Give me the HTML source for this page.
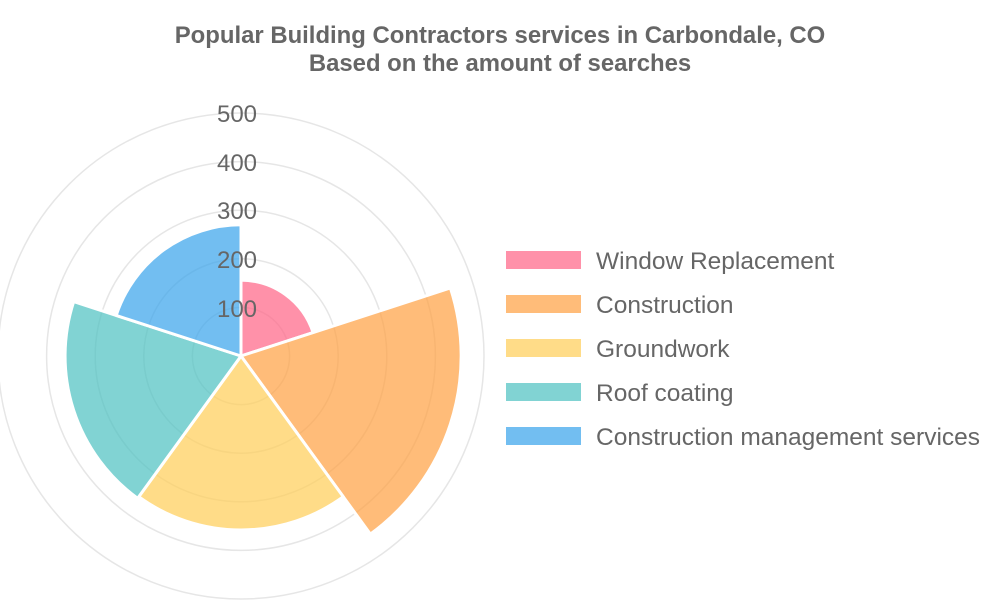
<!DOCTYPE html>
<html><head><meta charset="utf-8"><style>
html,body{margin:0;padding:0;background:#fff;}
svg{display:block;font-family:"Liberation Sans",sans-serif;}
</style></head><body>
<svg width="1000" height="600" viewBox="0 0 1000 600">
<text x="500" y="43" text-anchor="middle" font-size="23.9" font-weight="bold" fill="#666">Popular Building Contractors services in Carbondale, CO</text>
<text x="500" y="71" text-anchor="middle" font-size="23.9" font-weight="bold" fill="#666">Based on the amount of searches</text>
<g fill="none" stroke="#e6e6e6" stroke-width="1.5">
<circle cx="241" cy="356" r="48.6"/><circle cx="241" cy="356" r="97.2"/><circle cx="241" cy="356" r="145.8"/><circle cx="241" cy="356" r="194.4"/><circle cx="241" cy="356" r="243"/>
</g>
<g stroke="#fff" stroke-width="3" stroke-linejoin="round">
<path id="p1" fill="rgba(255,99,132,0.7)"/>
<path id="p2" fill="rgba(255,159,64,0.7)"/>
<path id="p3" fill="rgba(255,205,86,0.7)"/>
<path id="p4" fill="rgba(75,192,192,0.7)"/>
<path id="p5" fill="rgba(54,162,235,0.7)"/>
</g>
<g font-size="24" fill="#666" text-anchor="middle">
<text x="237" y="122">500</text><text x="237" y="171">400</text><text x="237" y="219">300</text><text x="237" y="268">200</text><text x="237" y="317">100</text>
</g>
<g font-size="24.5" fill="#666">
<rect x="506" y="251" width="75" height="18" fill="rgba(255,99,132,0.7)"/><text x="596" y="269">Window Replacement</text>
<rect x="506" y="295" width="75" height="18" fill="rgba(255,159,64,0.7)"/><text x="596" y="313">Construction</text>
<rect x="506" y="339" width="75" height="18" fill="rgba(255,205,86,0.7)"/><text x="596" y="357">Groundwork</text>
<rect x="506" y="383" width="75" height="18" fill="rgba(75,192,192,0.7)"/><text x="596" y="401">Roof coating</text>
<rect x="506" y="427" width="75" height="18" fill="rgba(54,162,235,0.7)"/><text x="596" y="445">Construction management services</text>
</g>
<script>
var cx=241,cy=356,s=0.486;
var vals=[156,453,358,362,270];
for(var i=0;i<5;i++){
 var a0=(-90+72*i)*Math.PI/180,a1=(-90+72*(i+1))*Math.PI/180,r=vals[i]*s;
 var d="M"+cx+","+cy+"L"+(cx+r*Math.cos(a0))+","+(cy+r*Math.sin(a0))+"A"+r+","+r+" 0 0 1 "+(cx+r*Math.cos(a1))+","+(cy+r*Math.sin(a1))+"Z";
 document.getElementById("p"+(i+1)).setAttribute("d",d);
}
</script>
</svg>
</body></html>
